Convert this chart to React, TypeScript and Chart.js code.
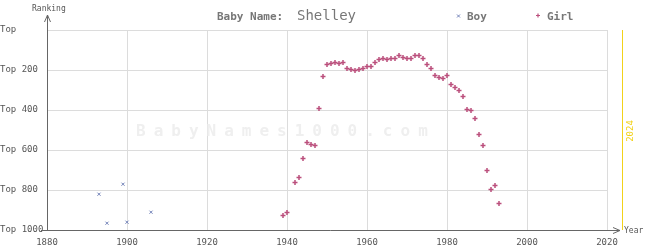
import React, { useEffect, useRef } from "react";
import { Chart, registerables } from "chart.js";

Chart.register(...registerables);

const boyYears = [1893, 1895, 1899, 1900, 1906];
const boyRanks = [821, 966, 771, 961, 911];

const girlYears = [
  1939, 1940, 1942, 1943, 1944, 1945, 1946, 1947, 1948, 1949,
  1950, 1951, 1952, 1953, 1954, 1955, 1956, 1957, 1958, 1959,
  1960, 1961, 1962, 1963, 1964, 1965, 1966, 1967, 1968, 1969,
  1970, 1971, 1972, 1973, 1974, 1975, 1976, 1977, 1978, 1979,
  1980, 1981, 1982, 1983, 1984, 1985, 1986, 1987, 1988, 1989,
  1990, 1991, 1992, 1993,
];
const girlRanks = [
  927, 912, 762, 737, 642, 562, 572, 577, 392, 232,
  172, 167, 162, 167, 162, 192, 197, 202, 197, 192,
  182, 182, 162, 147, 142, 147, 142, 142, 127, 137,
  142, 142, 127, 127, 142, 172, 192, 227, 237, 242,
  227, 272, 287, 302, 332, 397, 402, 442, 522, 577,
  702, 797, 777, 867,
];

const xTicks = [1880, 1900, 1920, 1940, 1960, 1980, 2000, 2020];
const yTicks = [0, 200, 400, 600, 800, 1000];
const yTickLabels = ["Top", "Top 200", "Top 400", "Top 600", "Top 800", "Top 1000"];
const currentYear = 2024;

const titleLabel = "Baby Name:";
const titleName = "Shelley";
const boyLabel = "Boy";
const girlLabel = "Girl";
const watermark = "BabyNames1000.com";

const BOY_COLOR = "#7282b8";
const GIRL_COLOR = "#bb4f7c";
const MONO = "'DejaVu Sans Mono', 'Liberation Mono', monospace";

const decorPlugin = {
  id: "decor",
  beforeDatasetsDraw(chart: any) {
    const ctx = chart.ctx;
    ctx.save();
    ctx.fillStyle = "#efefef";
    ctx.font = `bold 16px ${MONO}`;
    (ctx as any).letterSpacing = "8px";
    ctx.textAlign = "left";
    ctx.textBaseline = "middle";
    ctx.fillText(watermark, 136, 132);
    (ctx as any).letterSpacing = "0px";
    ctx.restore();
  },
  afterDraw(chart: any) {
    const ctx = chart.ctx;
    const area = chart.chartArea;
    const xs = chart.scales.x;
    ctx.save();
    ctx.strokeStyle = "#666";
    ctx.lineWidth = 1;
    ctx.beginPath();
    ctx.moveTo(41, area.bottom + 0.5);
    ctx.lineTo(620, area.bottom + 0.5);
    ctx.moveTo(area.left + 0.5, area.bottom + 1);
    ctx.lineTo(area.left + 0.5, 15);
    ctx.stroke();
    ctx.beginPath();
    ctx.moveTo(area.left + 0.5 - 3, 22);
    ctx.lineTo(area.left + 0.5, 15);
    ctx.lineTo(area.left + 0.5 + 3, 22);
    ctx.moveTo(613, area.bottom + 0.5 - 3);
    ctx.lineTo(620, area.bottom + 0.5);
    ctx.lineTo(613, area.bottom + 0.5 + 3);
    ctx.stroke();
    ctx.fillStyle = "#555";
    ctx.font = `8px ${MONO}`;
    ctx.textBaseline = "middle";
    ctx.textAlign = "left";
    ctx.fillText("Ranking", 32, 9);
    ctx.fillText("Year", 624, area.bottom + 0.5);

    const cx = Math.round(xs.getPixelForValue(currentYear)) - 0.5;
    ctx.strokeStyle = "#f2d21a";
    ctx.beginPath();
    ctx.moveTo(cx, area.top);
    ctx.lineTo(cx, area.bottom);
    ctx.stroke();
    ctx.save();
    ctx.translate(cx + 8, 131);
    ctx.rotate(-Math.PI / 2);
    ctx.fillStyle = "#f2d21a";
    ctx.font = `9px ${MONO}`;
    ctx.textAlign = "center";
    ctx.textBaseline = "middle";
    ctx.fillText(String(currentYear), 0, 0);
    ctx.restore();

    ctx.fillStyle = "#777";
    ctx.textBaseline = "middle";
    ctx.textAlign = "left";
    ctx.font = `bold 11px ${MONO}`;
    ctx.fillText(titleLabel, 217, 17);
    ctx.font = `14px ${MONO}`;
    ctx.fillText(titleName, 297, 16);

    ctx.font = `bold 11px ${MONO}`;
    ctx.fillText(boyLabel, 467, 17);
    ctx.fillText(girlLabel, 547, 17);
    ctx.lineWidth = 1;
    ctx.strokeStyle = BOY_COLOR;
    ctx.beginPath();
    ctx.moveTo(457, 14.5);
    ctx.lineTo(460, 17.5);
    ctx.moveTo(460, 14.5);
    ctx.lineTo(457, 17.5);
    ctx.stroke();
    ctx.strokeStyle = GIRL_COLOR;
    ctx.lineWidth = 1.2;
    ctx.beginPath();
    ctx.moveTo(536, 15.5);
    ctx.lineTo(540, 15.5);
    ctx.moveTo(538, 13.5);
    ctx.lineTo(538, 17.5);
    ctx.stroke();
    ctx.restore();
  },
};

export default function App() {
  const ref = useRef<HTMLCanvasElement | null>(null);
  useEffect(() => {
    document.body.style.margin = "0";
    const canvas = ref.current;
    if (!canvas) return;
    const chart = new Chart(canvas, {
      type: "scatter",
      data: {
        datasets: [
          {
            label: boyLabel,
            data: boyYears.map((y, i) => ({ x: y, y: boyRanks[i] })),
            pointStyle: "crossRot",
            pointRadius: 2.2,
            borderColor: BOY_COLOR,
            backgroundColor: BOY_COLOR,
            borderWidth: 1,
            showLine: false,
          },
          {
            label: girlLabel,
            data: girlYears.map((y, i) => ({ x: y, y: girlRanks[i] })),
            pointStyle: "cross",
            pointRadius: 2.5,
            borderColor: GIRL_COLOR,
            backgroundColor: GIRL_COLOR,
            borderWidth: 1.5,
            showLine: false,
          },
        ],
      },
      options: {
        animation: false,
        responsive: false,
        devicePixelRatio: 1,
        layout: { padding: { top: 30, right: 38, left: 0, bottom: 0 } },
        plugins: {
          legend: { display: false },
          title: { display: false },
          tooltip: { enabled: false },
        },
        scales: {
          x: {
            type: "linear",
            min: 1880,
            max: 2020,
            afterFit: (s: any) => {
              s.height = 20;
            },
            afterBuildTicks: (s: any) => {
              s.ticks = xTicks.map((v) => ({ value: v }));
            },
            border: { display: false },
            grid: { color: "#dcdcdc", lineWidth: 1, drawTicks: false },
            ticks: {
              padding: 7,
              color: "#555",
              font: { family: MONO, size: 9 },
              maxRotation: 0,
              autoSkip: false,
              callback: (v: any) => String(v),
            },
          },
          y: {
            type: "linear",
            reverse: true,
            min: 0,
            max: 1000,
            afterFit: (s: any) => {
              s.width = 47;
            },
            afterBuildTicks: (s: any) => {
              s.ticks = yTicks.map((v) => ({ value: v }));
            },
            border: { display: false },
            grid: { color: "#dcdcdc", lineWidth: 1, drawTicks: false },
            ticks: {
              crossAlign: "far",
              color: "#555",
              font: { family: MONO, size: 9 },
              autoSkip: false,
              callback: (v: any) => {
                const i = yTicks.indexOf(Number(v));
                return i >= 0 ? yTickLabels[i] : "";
              },
            },
          },
        },
      },
      plugins: [decorPlugin],
    });
    return () => chart.destroy();
  }, []);
  return (
    <div style={{ width: 645, height: 250 }}>
      <canvas ref={ref} width={645} height={250} style={{ display: "block" }} />
    </div>
  );
}
